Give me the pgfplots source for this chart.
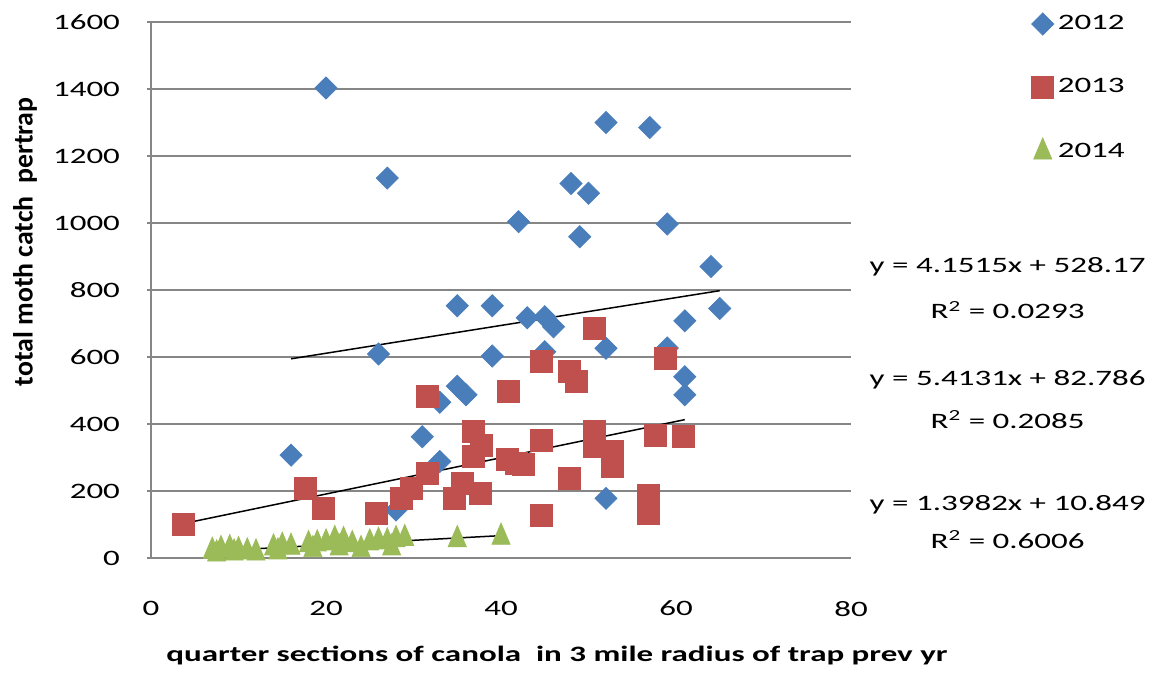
\documentclass[border=0pt]{standalone}
\usepackage{fontspec}
\setmainfont{Carlito}[FakeStretch=1.5]
\newfontfamily\ylabfont{Carlito}
\usepackage{pgfplots}
\pgfplotsset{compat=1.18}
\definecolor{c2012}{RGB}{74,126,187}
\definecolor{c2013}{RGB}{192,80,77}
\definecolor{c2014}{RGB}{155,187,89}
\definecolor{gridgray}{RGB}{134,134,134}

\begin{document}
\begin{tikzpicture}
\begin{axis}[
  width=350pt, height=268pt, scale only axis,
  xmin=0, xmax=80, ymin=0, ymax=1600,
  xtick={0,20,...,80}, ytick={0,200,...,1600},
  axis x line*=bottom, axis y line*=left,
  axis line style={gridgray, line width=1pt, -},
  ymajorgrids, grid style={gridgray, line width=1pt},
  major x tick style={draw=none},
  major y tick style={gridgray, line width=1pt},
  tick align=outside, major tick length=2pt,
  /pgf/number format/assume math mode=true,
  /pgf/number format/1000 sep={},
  tick label style={font=\fontsize{11}{13}\selectfont, black},
  yticklabel style={xshift=-10pt},
  xticklabel style={yshift=-16pt},
  xlabel={quarter sections of canola\ \ in 3 mile radius of trap prev yr},
  ylabel={total moth catch\ \ pertrap},
  xlabel style={at={(axis description cs:0.58,-0.181)}, anchor=center, font=\bfseries\fontsize{11}{13}\selectfont},
  ylabel style={at={(axis description cs:-0.18,0.59)}, anchor=center, font=\ylabfont\bfseries\fontsize{13.9}{16}\selectfont},
  clip=false,
  legend style={at={(1.249,1.028)}, anchor=north west, draw=none, fill=none,
    font=\fontsize{11}{13}\selectfont, row sep=19pt},
  legend cell align=left,
]
% 2012
\addplot[only marks, mark=square*, mark size=3.9pt,
  mark options={rotate=45, draw=c2012, fill=c2012}] coordinates {
(20,1403) (27,1134) (42,1004) (52,1300) (57,1285) (48,1118) (50,1089)
(49,959) (59,997) (64,870) (35,753) (39,753) (26,609) (39,603)
(35,513) (36,487) (33,465) (31,362) (33,288) (16,307) (28,143)
(43,717) (45,720) (46,690) (52,626) (59,627) (61,708) (65,745)
(61,541) (61,487) (45,616) (48.5,530) (52,178)
};
% 2013
\addplot[only marks, mark=square*, mark size=5.5pt,
  mark options={draw=c2013, fill=c2013}] coordinates {
(3.7,100) (17.7,208) (19.7,148) (25.8,133) (28.6,178) (29.8,208)
(31.6,253) (31.6,482) (34.7,178) (35.6,223) (37.6,193) (36.8,377)
(36.8,302) (37.8,337) (40.8,497) (41.8,283) (40.7,293) (42.6,278)
(44.6,352) (44.6,128) (44.6,586) (47.8,556) (48.6,526) (50.7,686)
(50.7,377) (50.7,332) (47.8,238) (52.7,317) (52.7,272) (56.8,188)
(56.8,133) (57.6,367) (58.8,596) (60.8,362)
};
% 2014
\addplot[only marks, mark=triangle*, mark size=5.2pt,
  mark options={yscale=1.35, draw=c2014, fill=c2014}] coordinates {
(7,20) (8,25) (9,28) (10,22) (11,18) (12,15) (7.5,12) (9.5,15)
(14,30) (15,35) (16,32) (14.5,18) (18,40) (19,42) (20,45) (18.5,25)
(21,55) (22,52) (21.5,30) (23,40) (25,45) (26,50) (27,48) (28,55)
(29,58) (24,25) (27.5,30) (35,55) (40,62)
};
\legend{2012,2013,2014}
% linear trendlines
\addplot[black, line width=0.75pt, forget plot] coordinates {(16,594.6) (65,798.0)};
\addplot[black, line width=0.75pt, forget plot] coordinates {(3.7,102.8) (61,413.0)};
\addplot[black, line width=0.75pt, forget plot] coordinates {(6.7,20.2) (40,66.8)};
% trendline labels
\node[font=\fontsize{11}{13}\selectfont] at (axis cs:97.9,870) {y = 4.1515x + 528.17};
\node[font=\fontsize{11}{13}\selectfont] at (axis cs:97.9,740) {R\textsuperscript{2} = 0.0293};
\node[font=\fontsize{11}{13}\selectfont] at (axis cs:97.9,531) {y = 5.4131x + 82.786};
\node[font=\fontsize{11}{13}\selectfont] at (axis cs:97.9,412) {R\textsuperscript{2} = 0.2085};
\node[font=\fontsize{11}{13}\selectfont] at (axis cs:97.9,158) {y = 1.3982x + 10.849};
\node[font=\fontsize{11}{13}\selectfont] at (axis cs:97.9,54) {R\textsuperscript{2} = 0.6006};
\coordinate (bl) at (axis cs:-17.26,-343.3);
\coordinate (tr) at (axis cs:115.77,1665.7);
\end{axis}
\pgfresetboundingbox
\path[use as bounding box] (bl) rectangle (tr);
\end{tikzpicture}
\end{document}
